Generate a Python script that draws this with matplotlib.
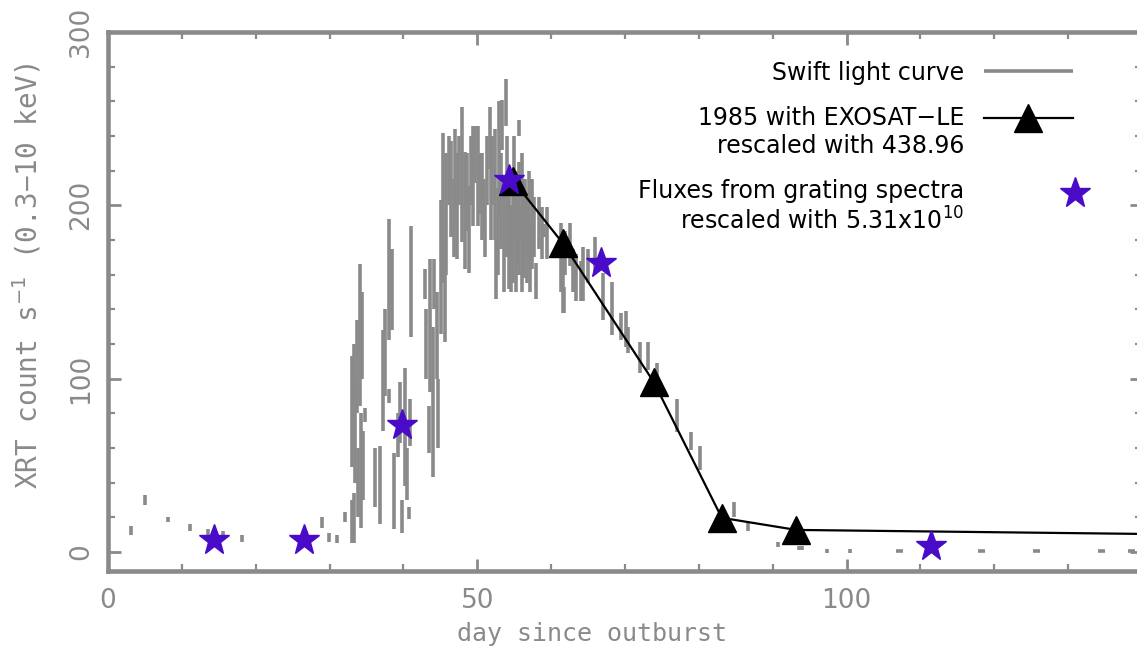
import numpy as np
import matplotlib.pyplot as plt
from matplotlib.legend_handler import HandlerLine2DCompound
from matplotlib.ticker import MultipleLocator

# Swift XRT light curve: time (day), lower and upper end of each error bar
swift_t = [3.1, 5.0, 8.1, 11.1, 13.5, 15.6, 18.1, 29.0, 29.9, 31.0, 32.1,
           33.0, 33.3, 33.0, 33.3, 33.5, 33.7, 33.8, 34.1, 34.2, 34.4, 34.5,
           34.8, 36.1, 36.8, 37.2, 37.5, 38.0, 38.4, 38.1, 38.7, 39.2, 39.5,
           39.8, 40.2, 40.5, 40.9, 41.0, 40.8, 42.9, 43.0, 43.6, 43.4, 44.0,
           44.2, 44.5, 44.7, 45.1, 45.3, 45.6, 45.8, 46.2, 46.5, 46.8, 47.0,
           47.2, 47.5, 47.9, 48.3, 48.6, 48.9, 49.1, 49.4, 49.7, 50.1, 50.3,
           50.6, 50.9, 51.1, 51.3, 51.7, 51.9, 52.0, 52.4, 52.6, 52.8, 53.0,
           53.2, 53.3, 53.6, 53.9, 54.0, 54.3, 54.6, 54.9, 55.0, 55.2, 55.4,
           55.6, 55.7, 56.0, 56.1, 56.3, 56.5, 56.7, 57.0, 57.2, 57.4, 57.7,
           58.0, 58.3, 58.8, 59.1, 59.4, 61.4, 61.6, 61.8, 61.9, 62.5, 62.9,
           63.3, 64.1, 64.3, 65.0, 65.9, 67.0, 68.3, 69.4, 70.2, 70.4, 72.0,
           73.1, 74.3, 77.0, 78.9, 80.2, 84.7, 86.7, 90.7, 93.5, 94.0, 97.4,
           100.4]
swift_lo = [10, 27, 17, 12, 10, 10, 6, 14, 6, 5, 17,
            5, 5, 49, 60, 40, 80, 20, 84, 14, 100, 30,
            75, 26, 16, 70, 90, 122, 128, 86, 13, 55, 63,
            11, 38, 30, 61, 124, 19, 146, 100, 92, 57, 43,
            140, 100, 60, 126, 155, 121, 160, 200, 182, 170, 192,
            169, 200, 179, 163, 185, 161, 200, 188, 213, 188, 195,
            180, 185, 170, 200, 221, 180, 200, 180, 146, 160, 194,
            175, 232, 150, 246, 170, 152, 150, 155, 180, 150, 165,
            240, 160, 150, 180, 158, 170, 155, 165, 150, 163, 170,
            146, 175, 169, 182, 169, 150, 138, 138, 160, 165, 150,
            145, 145, 145, 155, 161, 134, 125, 122, 118, 115, 103,
            105, 99, 69, 59, 47, 20, 12, 3, 1, 1, -0.5,
            -0.5]
swift_hi = [15, 33, 20, 16, 13, 12, 10, 20, 11, 10, 23,
            30, 34, 113, 120, 100, 134, 60, 166, 80, 150, 70,
            83, 60, 61, 128, 140, 192, 175, 94, 57, 80, 98,
            30, 106, 60, 88, 188, 26, 163, 140, 169, 84, 130,
            169, 150, 100, 203, 242, 180, 230, 240, 237, 215, 244,
            230, 240, 257, 231, 230, 211, 240, 246, 246, 246, 230,
            230, 215, 200, 240, 257, 222, 240, 244, 182, 210, 260,
            230, 261, 210, 273, 240, 215, 200, 215, 240, 205, 220,
            249, 225, 200, 230, 215, 215, 205, 220, 190, 215, 205,
            167, 205, 199, 189, 199, 190, 175, 153, 185, 190, 175,
            172, 168, 176, 175, 182, 161, 156, 138, 139, 130, 121,
            121, 109, 88, 69, 61, 29, 17, 6, 3.5, 3.5, 1.5,
            1.5]
# late Swift points with wide time bins
late_t = [107.2, 118.3, 125.7, 134.5, 138.6]
late_rate = [0.3, 0.3, 0.3, 0.3, 0.3]
late_halfbin = [0.45, 0.45, 0.45, 0.45, 0.45]

# 1985 EXOSAT-LE outburst, rescaled
exo_t = [54.9, 61.6, 73.9, 83.1, 93.2, 150.0]
exo_rate = [214, 178, 98, 19.7, 12.7, 9.9]

# fluxes from grating spectra, rescaled
grat_t = [14.3, 26.5, 39.8, 54.3, 66.8, 111.4]
grat_rate = [6.9, 6.9, 73.4, 214.5, 166.5, 3.5]

grey = '#8a8a8a'
purple = '#4a0bc9'


class ShiftedHandler(HandlerLine2DCompound):
    # legend handle lifted to the first text line, marker optionally at right end
    def __init__(self, dy=0.0, marker_at_end=False, **kw):
        super().__init__(**kw)
        self.dy = dy
        self.marker_at_end = marker_at_end

    def get_xdata(self, legend, xdescent, ydescent, width, height, fontsize):
        xdata, xmark = super().get_xdata(legend, xdescent, ydescent, width, height, fontsize)
        if self.marker_at_end:
            xmark = [xdata[-1] + 1.5]
        return xdata, xmark

    def create_artists(self, legend, orig_handle, xdescent, ydescent, width,
                       height, fontsize, trans):
        arts = super().create_artists(legend, orig_handle, xdescent, ydescent,
                                      width, height, fontsize, trans)
        for a in arts:
            a.set_ydata(np.asarray(a.get_ydata()) + self.dy)
        return arts


fig = plt.figure(figsize=(11.37, 6.60), dpi=100)
ax = fig.add_axes([108 / 1137, 89 / 660, 1034 / 1137, 539 / 660])

ax.vlines(swift_t, swift_lo, swift_hi, color=grey, lw=2.6,
          label='Swift light curve')
ax.hlines(late_rate, np.array(late_t) - np.array(late_halfbin),
          np.array(late_t) + np.array(late_halfbin), color=grey, lw=2.6)

exo, = ax.plot(exo_t, exo_rate, '-^', color='black', lw=1.6, ms=20,
               label='1985 with EXOSAT\u2212LE\nrescaled with 438.96')
stars, = ax.plot(grat_t, grat_rate, '*', color=purple, ms=23, ls='none',
                 label='Fluxes from grating spectra\nrescaled with 5.31x10$^{10}$')

ax.set_xlim(0, 140)
ax.set_ylim(-11, 300)

ax.xaxis.set_major_locator(MultipleLocator(50))
ax.xaxis.set_minor_locator(MultipleLocator(10))
ax.yaxis.set_major_locator(MultipleLocator(100))
ax.yaxis.set_minor_locator(MultipleLocator(20))

for s in ax.spines.values():
    s.set_color(grey)
    s.set_linewidth(3.3)

ax.tick_params(which='both', direction='in', top=True, right=True,
               color=grey, labelcolor=grey, labelsize=19)
ax.tick_params(which='major', length=9, width=2)
ax.tick_params(which='minor', length=5, width=1.6)
ax.tick_params(axis='x', pad=12)
ax.tick_params(axis='y', pad=10)
for lab in ax.get_yticklabels():
    lab.set_rotation(90)
    lab.set_va('center')

ax.set_xlabel('day since outburst', color=grey, fontsize=18,
              family='DejaVu Sans Mono')
ax.set_ylabel('XRT count s$^{-1}$ (0.3\u221210 keV)', color=grey, fontsize=20,
              family='DejaVu Sans Mono')
ax.xaxis.set_label_coords(0.468, -0.095)
ax.yaxis.set_label_coords(-0.062, 0.548)

leg = ax.legend(loc='upper right', bbox_to_anchor=(0.933, 0.947),
                frameon=False, markerfirst=False, fontsize=17,
                handlelength=3.75, handletextpad=0.85, labelspacing=0.9,
                borderpad=0, borderaxespad=0, numpoints=1,
                handler_map={exo: ShiftedHandler(dy=11, numpoints=1),
                             stars: ShiftedHandler(dy=11, marker_at_end=True,
                                                   numpoints=1)})
for t in leg.get_texts():
    t.set_multialignment('right')

fig.savefig('out.png', dpi=100)
